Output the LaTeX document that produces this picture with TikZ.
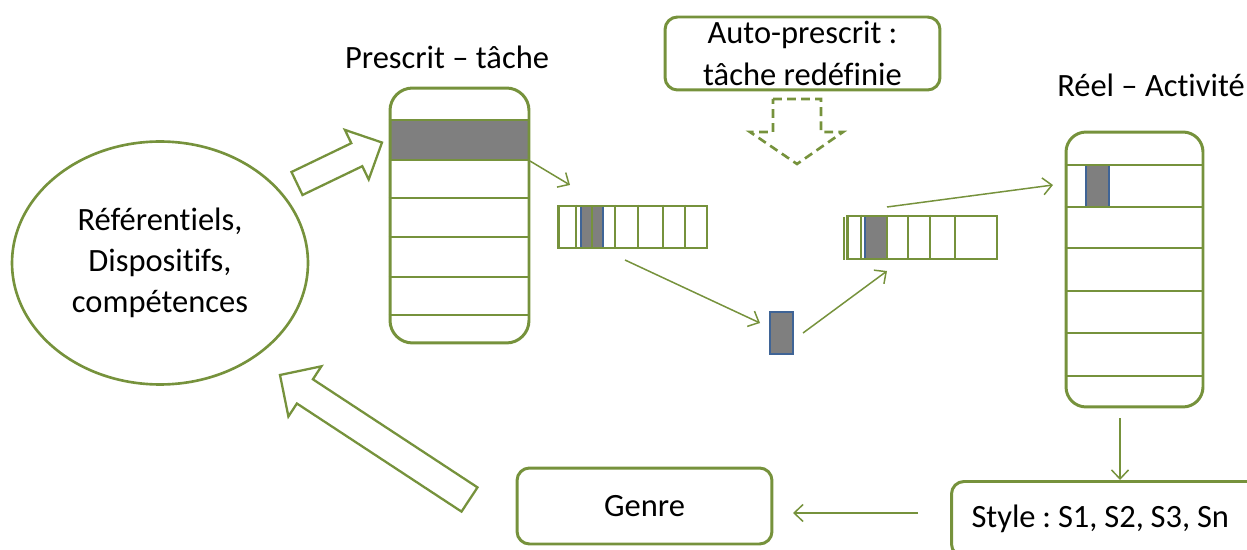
\documentclass[tikz,border=0pt]{standalone}
\usepackage{fontspec}
\setmainfont{Carlito}[RawFeature={-liga}]
\usetikzlibrary{shapes.geometric,arrows.meta}
\definecolor{vertolive}{HTML}{76923C}
\definecolor{cellgray}{HTML}{7F7F7F}
\definecolor{cellblue}{HTML}{3F6496}
\frenchspacing

\begin{document}
\begin{tikzpicture}[x=0.02cm, y=-0.02cm]
% Définition de styles
\tikzset{
  txt/.style={font=\fontsize{18.5}{23.5}\selectfont, text=black, align=center},
  bubble/.style={ellipse, draw=vertolive, line width=1.5pt, inner sep=0pt},
  column/.style={rectangle, draw=vertolive, line width=1.7pt, rounded corners=0.45cm, inner sep=0pt},
  strip/.style={rectangle, draw=vertolive, line width=1.7pt, inner sep=0pt},
  cell/.style={rectangle, draw=cellblue, line width=1.2pt, fill=cellgray, inner sep=0pt},
  textbox/.style={rectangle, draw=vertolive, line width=1.7pt, rounded corners=0.25cm, inner sep=0pt},
  rowline/.style={vertolive, line width=1.1pt},
  flow/.style={vertolive, line width=0.85pt, -{Straight Barb[length=1.8mm,width=3.4mm]}},
  hollow/.style={draw=vertolive, line width=1.3pt, line join=miter}
}

\useasboundingbox (0,0) rectangle (1247,550);

% Référentiels
\node[bubble, txt, minimum width=5.92cm, minimum height=4.86cm] (referentiels) at (160,263) {Référentiels,\\Dispositifs,\\compétences};

% Prescrit - tâche
\node[txt] (prescrit_title) at (447,57) {Prescrit – tâche};
\node[cell, minimum width=2.78cm, minimum height=0.8cm] (prescrit_cell) at (459.5,140) {};
\node[column, minimum width=2.78cm, minimum height=5.1cm] (prescrit) at (459.5,215.5) {};
\foreach \y in {120,160,198,237,277,315}
  \draw[rowline] (prescrit.west |- 0,\y) -- (prescrit.east |- 0,\y);

% Bande horizontale 1
\node[cell, minimum width=0.44cm, minimum height=0.84cm] (strip_cell) at (592,227) {};
\node[strip, minimum width=2.98cm, minimum height=0.84cm] (strip) at (632.5,227) {};
\draw[rowline, line width=0.6pt] (592,206) -- (592,248);
\foreach \x in {576,615,638,663,685}
  \draw[rowline] (\x,0 |- strip.north) -- (\x,0 |- strip.south);

% Élément isolé
\node[cell, line width=1.5pt, minimum width=0.46cm, minimum height=0.84cm] (pivot) at (781.5,333) {};

% Bande horizontale 2
\node[cell, minimum width=0.44cm, minimum height=0.86cm] (strip2_cell) at (876,237.5) {};
\node[strip, minimum width=3.0cm, minimum height=0.86cm] (strip2) at (922,237.5) {};
\draw[rowline, line width=0.8pt] (844,217) -- (844,260);
\foreach \x in {861,887,908,930,955}
  \draw[rowline] (\x,0 |- strip2.north) -- (\x,0 |- strip2.south);

% Auto-prescrit
\node[textbox, txt, minimum width=5.5cm, minimum height=1.46cm] (auto_prescrit) at (802.5,53.5) {Auto-prescrit :\\tâche redéfinie};
\draw[hollow, line width=1.5pt, dash pattern=on 5pt off 3pt]
  (773,99) -- (821,99) -- (821,132) -- (843,132) -- (797,164) -- (750,132) -- (773,132) -- cycle;

% Réel - Activité
\node[txt] (reel_title) at (1151,85) {Réel – Activité};
\node[cell, minimum width=0.46cm, minimum height=0.84cm] (reel_cell) at (1097.5,186) {};
\node[column, rounded corners=0.4cm, minimum width=2.74cm, minimum height=5.5cm] (reel) at (1134.5,269.5) {};
\foreach \y in {165,207,248,291,333,376}
  \draw[rowline] (reel.west |- 0,\y) -- (reel.east |- 0,\y);

% Style et Genre
\node[textbox, txt, anchor=north west, text width=6.2cm, align=left, inner xsep=0.4cm, minimum height=1.5cm] (style) at (950,480) {\spaceskip=0.21em\relax Style : S1, S2, S3, Sn};
\node[textbox, txt, minimum width=5.1cm, minimum height=1.52cm] (genre) at (644.5,506) {Genre};

% Flèches creuses
\draw[hollow] (291.5,172) -- (351.3,143.2) -- (344.9,129.9) -- (382,142.5)
  -- (368.7,179.5) -- (362.3,166.2) -- (302.5,195) -- cycle;
\draw[hollow] (477.5,487.4) -- (312.9,379.3) -- (321.4,366.3) -- (280,375)
  -- (288.4,416.5) -- (296.9,403.5) -- (461.5,511.6) -- cycle;

% Relations
\coordinate (strip_in) at (570,185);
\coordinate (strip_out) at (625,260);
\coordinate (pivot_in) at (760,323);
\coordinate (pivot_out) at (803,333);
\coordinate (strip2_in) at (887,271);
\coordinate (strip2_out) at (887,207);
\coordinate (reel_in) at (1053,185);
\coordinate (reel_out) at (1120,418);
\coordinate (style_out) at (918,513);
\coordinate (genre_in) at (793,513);

\draw[flow] (prescrit_cell.south east) -- (strip_in);
\draw[flow] (strip_out) -- (pivot_in);
\draw[flow] (pivot_out) -- (strip2_in);
\draw[flow] (strip2_out) -- (reel_in);
\draw[flow] (reel_out) -- (reel_out |- style.north);
\draw[flow] (style_out) -- (genre_in);

\end{tikzpicture}
\end{document}
